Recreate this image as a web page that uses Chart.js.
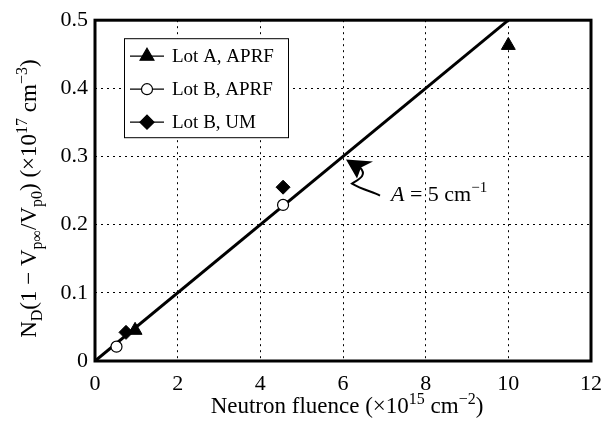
<!DOCTYPE html>
<html>
<head>
<meta charset="utf-8">
<script src="https://cdn.jsdelivr.net/npm/chart.js@4.4.0/dist/chart.umd.min.js"></script>
<style>
  html, body { margin: 0; padding: 0; background: #fff; }
  #wrap { width: 615px; height: 426px; }
</style>
</head>
<body>
<div id="wrap"><canvas id="fluenceChart" width="615" height="426"></canvas></div>
<script>
// measured points
var lotA_aprf_x = [0.97, 10];
var lotA_aprf_y = [0.045, 0.463];
var lotB_aprf_x = [0.52, 4.55];
var lotB_aprf_y = [0.021, 0.229];
var lotB_um_x = [0.75, 4.55];
var lotB_um_y = [0.042, 0.255];
// straight fit, A = 5 cm^-1
var fit_x = [0, 10];
var fit_y = [0, 0.5];

var xTicks = [0, 2, 4, 6, 8, 10, 12];
var yTicks = [0, 0.1, 0.2, 0.3, 0.4, 0.5];

var SERIF = '"Liberation Serif", "DejaVu Serif", serif';

function pts(xs, ys){
	var out = [];
	for(var i=0;i<xs.length;i++){
		out.push({x: xs[i], y: ys[i]});
	}
	return out;
}

// draws text made of normal / sub / sup pieces, centred on (cx, cy)
function richText(ctx, parts, cx, cy, size, align){
	var small = Math.round(size*0.7);
	var w = 0;
	for(var i=0;i<parts.length;i++){
		ctx.font = (parts[i][1]=='n' ? size : small) + 'px ' + SERIF;
		w += ctx.measureText(parts[i][0]).width;
	}
	var x = align=='left' ? cx : cx - w/2;
	ctx.textBaseline = 'alphabetic';
	ctx.textAlign = 'left';
	var base = cy + size*0.33;
	for(var i=0;i<parts.length;i++){
		var p = parts[i];
		var dy = 0;
		ctx.font = (p[1]=='n' ? size : small) + 'px ' + SERIF;
		if(p[1]=='sub') dy = size*0.28;
		if(p[1]=='sup') dy = -size*0.38;
		ctx.fillText(p[0], x, base+dy);
		x += ctx.measureText(p[0]).width;
	}
}

var decorations = {
	id: 'decorations',
	afterDraw: function(chart){
		var ctx = chart.ctx;
		var a = chart.chartArea;
		var xs = chart.scales.x, ys = chart.scales.y;
		ctx.save();
		ctx.fillStyle = '#000';
		ctx.strokeStyle = '#000';

		// heavy frame
		ctx.lineWidth = 3;
		ctx.strokeRect(a.left, a.top, a.right-a.left, a.bottom-a.top);

		// axis titles
		richText(ctx, [['Neutron fluence (×10','n'],['15','sup'],[' cm','n'],['−2','sup'],[')','n']],
			(a.left+a.right)/2 + 4, 405, 23);
		ctx.save();
		ctx.translate(28, (a.top+a.bottom)/2 + 8);
		ctx.rotate(-Math.PI/2);
		richText(ctx, [['N','n'],['D','sub'],['(1 − V','n'],['p∞','sub'],['/V','n'],['p0','sub'],[') (×10','n'],['17','sup'],[' cm','n'],['−3','sup'],[')','n']],
			0, 0, 23);
		ctx.restore();

		// legend
		var lx = a.left + 29, ly = a.top + 18;
		ctx.lineWidth = 1;
		ctx.fillStyle = '#fff';
		ctx.fillRect(lx, ly, 164, 99);
		ctx.strokeStyle = '#000';
		ctx.strokeRect(lx+0.5, ly+0.5, 164, 99);
		var names = ['Lot A, APRF', 'Lot B, APRF', 'Lot B, UM'];
		for(var i=0;i<3;i++){
			var ds = chart.data.datasets[i];
			var yy = ly + 18 + i*33;
			ctx.lineWidth = 1.2;
			ctx.strokeStyle = '#000';
			ctx.beginPath();
			ctx.moveTo(lx+6, yy); ctx.lineTo(lx+40, yy);
			ctx.stroke();
			ctx.fillStyle = ds.pointBackgroundColor;
			ctx.strokeStyle = '#000';
			Chart.helpers.drawPoint(ctx, {
				pointStyle: ds.pointStyle, radius: ds.pointRadius, rotation: 0, borderWidth: 1.2
			}, lx+23, yy);
			ctx.fillStyle = '#000';
			ctx.font = '19px ' + SERIF;
			ctx.textAlign = 'left';
			ctx.textBaseline = 'middle';
			ctx.fillText(names[i], lx+48, yy+1);
		}

		// curly pointer to the fit line
		var tx = xs.getPixelForValue(6) + 3;
		var ty = ys.getPixelForValue(0.3) + 3;
		ctx.fillStyle = '#000';
		ctx.beginPath();
		ctx.moveTo(tx, ty);
		ctx.lineTo(tx+27, ty+2);
		ctx.lineTo(tx+15, ty+8);
		ctx.lineTo(tx+11, ty+19);
		ctx.closePath();
		ctx.fill();
		ctx.lineWidth = 2;
		ctx.beginPath();
		ctx.moveTo(tx+14, ty+8);
		ctx.bezierCurveTo(tx+22, ty+16, tx+12, ty+20, tx+6, ty+24);
		ctx.bezierCurveTo(tx+16, ty+30, tx+26, ty+32, tx+34, ty+36);
		ctx.stroke();
		ctx.fillStyle = '#000';
		ctx.font = 'italic 22px ' + SERIF;
		ctx.textAlign = 'left';
		ctx.textBaseline = 'alphabetic';
		ctx.fillText('A', tx+45, ty+41);
		var wA = ctx.measureText('A').width;
		richText(ctx, [[' = 5 cm','n'],['−1','sup']], tx+45+wA, ty+41-22*0.33, 22, 'left');
		ctx.restore();
	}
};

var ctx = document.getElementById('fluenceChart');

var myChart = new Chart(ctx, {
	type: 'scatter',
	data: {
		datasets: [{
			label: 'Lot A, APRF',
			data: pts(lotA_aprf_x, lotA_aprf_y),
			pointStyle: 'triangle',
			pointRadius: 8,
			pointBackgroundColor: '#000',
			pointBorderColor: '#000',
			order: 1
		},{
			label: 'Lot B, APRF',
			data: pts(lotB_aprf_x, lotB_aprf_y),
			pointStyle: 'circle',
			pointRadius: 5.5,
			pointBorderWidth: 1.2,
			pointBackgroundColor: '#fff',
			pointBorderColor: '#000',
			order: 0
		},{
			label: 'Lot B, UM',
			data: pts(lotB_um_x, lotB_um_y),
			pointStyle: 'rectRot',
			pointRadius: 7,
			pointBackgroundColor: '#000',
			pointBorderColor: '#000',
			order: 1
		},{
			label: 'fit',
			data: pts(fit_x, fit_y),
			showLine: true,
			pointRadius: 0,
			borderColor: '#000',
			borderWidth: 3,
			order: 2
		}]
	},
	options: {
		responsive: false,
		animation: false,
		layout: { padding: { left: 0, top: 10, right: 24, bottom: 0 } },
		plugins: {
			legend: { display: false },
			tooltip: { enabled: false }
		},
		scales: {
			x: {
				type: 'linear',
				min: 0, max: 12,
				afterBuildTicks: function(s){ s.ticks = xTicks.map(function(v){ return {value: v}; }); },
				afterFit: function(s){ s.height = 65; },
				grid: { color: '#000', lineWidth: 1, drawTicks: false, tickLength: 0 },
				border: { display: false, dash: [2, 4] },
				ticks: {
					color: '#000',
					padding: 10,
					font: { family: SERIF, size: 22 },
					callback: function(v){ return v; }
				}
			},
			y: {
				type: 'linear',
				min: 0, max: 0.5,
				afterBuildTicks: function(s){ s.ticks = yTicks.map(function(v){ return {value: v}; }); },
				afterFit: function(s){ s.width = 95; },
				grid: { color: '#000', lineWidth: 1, drawTicks: false, tickLength: 0 },
				border: { display: false, dash: [2, 4] },
				ticks: {
					color: '#000',
					padding: 7,
					font: { family: SERIF, size: 22 },
					callback: function(v){ return v === 0 ? '0' : v.toFixed(1); }
				}
			}
		}
	},
	plugins: [decorations]
});
</script>
</body>
</html>
